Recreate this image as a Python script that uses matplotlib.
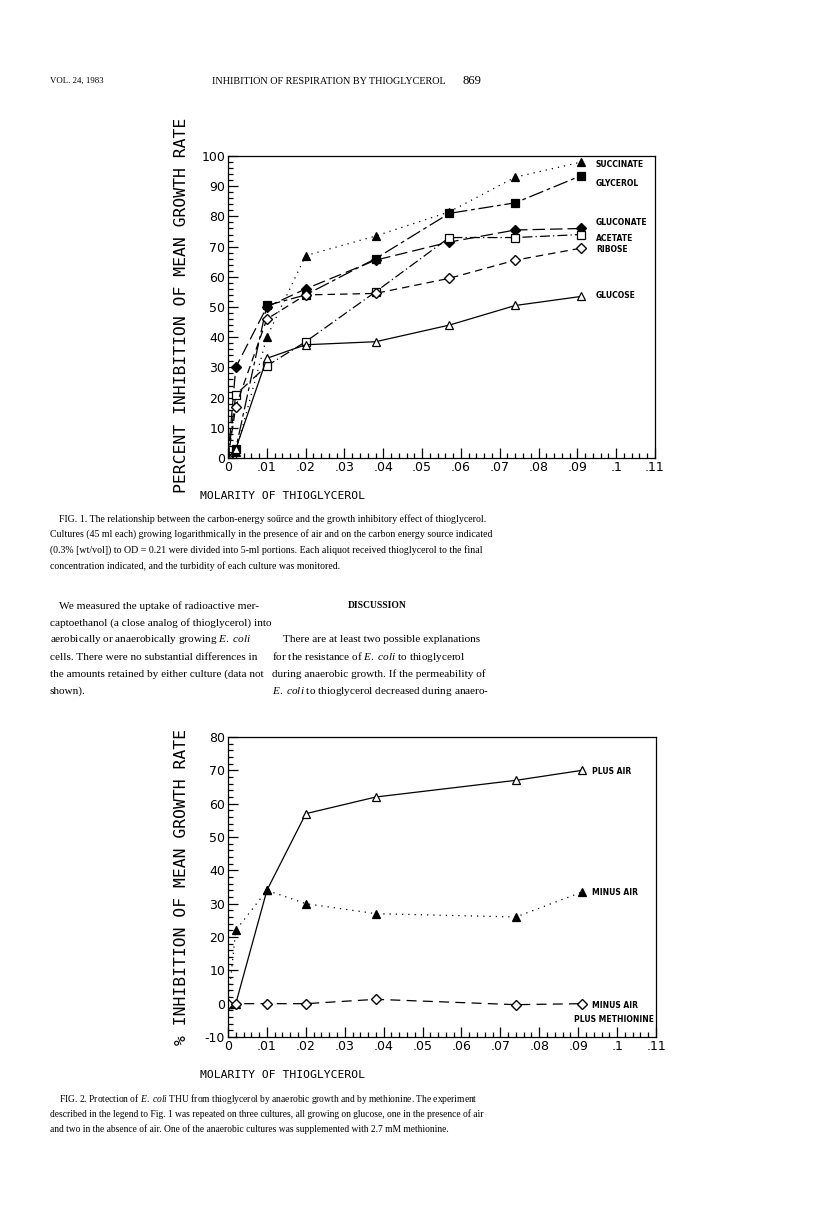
import matplotlib
matplotlib.use('Agg')
import matplotlib.pyplot as plt
from matplotlib.ticker import FixedLocator, FixedFormatter, MultipleLocator
import numpy as np

plt.rcParams['mathtext.fontset'] = 'custom'
plt.rcParams['mathtext.rm'] = 'Liberation Serif'
plt.rcParams['mathtext.it'] = 'Liberation Serif:italic'
plt.rcParams['mathtext.bf'] = 'Liberation Serif:bold'

# ---------------- data ----------------
conc1 = [0, 0.002, 0.01, 0.02, 0.038, 0.057, 0.074, 0.091]
succinate = [0, 2, 40, 67, 73.5, 81.5, 93, 98]
glycerol = [0, 3, 50.5, 54, 66, 81, 84.5, 93.5]
gluconate = [0, 30, 50, 56, 65.5, 71.5, 75.5, 76]
acetate = [0, 21, 30.5, 38.5, 55, 73, 73, 74]
ribose = [0, 17, 46, 54, 54.5, 59.5, 65.5, 69.5]
glucose = [0, 3, 33, 37.5, 38.5, 44, 50.5, 53.5]

conc2 = [0, 0.002, 0.01, 0.02, 0.038, 0.074, 0.091]
plus_air = [0, 0, 34, 57, 62, 67, 70]
minus_air = [0, 22, 34, 30, 27, 26, 33.5]
minus_air_met = [0, 0, 0, 0, 1.3, -0.3, 0]

xticks = [0, 0.01, 0.02, 0.03, 0.04, 0.05, 0.06, 0.07, 0.08, 0.09, 0.10, 0.11]
xtick_labels = ['0', '.01', '.02', '.03', '.04', '.05', '.06', '.07', '.08', '.09', '.1', '.11']
yticks1 = [0, 10, 20, 30, 40, 50, 60, 70, 80, 90, 100]
yticks2 = [-10, 0, 10, 20, 30, 40, 50, 60, 70, 80]

labels1 = ['SUCCINATE', 'GLYCEROL', 'GLUCONATE', 'ACETATE', 'RIBOSE', 'GLUCOSE']
label1_y = [97.1, 90.9, 77.9, 72.8, 69.2, 53.7]
labels2 = ['PLUS AIR', 'MINUS AIR', 'MINUS AIR', 'PLUS METHIONINE']
label2_y = [69.6, 33.4, -0.4, -4.9]

W, H = 816, 1224
fig = plt.figure(figsize=(W / 100, H / 100), dpi=100)
fig.patch.set_facecolor('white')


def fx(px):
    return px / W


def fy(py):
    return 1 - py / H


TICKFONT = dict(family='DejaVu Sans', size=9)
MONO = 'DejaVu Sans Mono'
LW = 0.9


def style_axes(ax, ymin, ymax, yt):
    ax.set_xlim(0, 0.11)
    ax.set_ylim(ymin, ymax)
    ax.xaxis.set_major_locator(FixedLocator(xticks))
    ax.xaxis.set_major_formatter(FixedFormatter(xtick_labels))
    ax.xaxis.set_minor_locator(MultipleLocator(0.002))
    ax.yaxis.set_major_locator(FixedLocator(yt))
    ax.yaxis.set_major_formatter(FixedFormatter([str(v) for v in yt]))
    ax.yaxis.set_minor_locator(MultipleLocator(2))
    ax.tick_params(which='major', direction='in', length=7, width=LW, pad=2,
                   labelsize=TICKFONT['size'])
    ax.tick_params(which='minor', direction='in', length=3.5, width=LW)
    for lab in ax.get_xticklabels() + ax.get_yticklabels():
        lab.set_family(TICKFONT['family'])
    for sp in ax.spines.values():
        sp.set_linewidth(LW)


mk = dict(markersize=6, color='black', linewidth=LW, markeredgewidth=0.9)

# ---------------- Figure 1 ----------------
ax1 = fig.add_axes([fx(228), fy(458), fx(655 - 228), (458 - 156) / H])
style_axes(ax1, 0, 100, yticks1)
ax1.plot(conc1, succinate, linestyle=(0, (1, 4)), marker='^', markerfacecolor='black', **mk)
ax1.plot(conc1, glycerol, linestyle=(0, (12, 3, 3, 3)), marker='s', markerfacecolor='black', **mk)
ax1.plot(conc1, gluconate, linestyle=(0, (10, 4)), marker='D', markersize=5.5,
         markerfacecolor='black', color='black', linewidth=LW)
ax1.plot(conc1, acetate, linestyle=(0, (8, 2.5, 1, 2.5)), marker='s', markerfacecolor='white', **mk)
ax1.plot(conc1, ribose, linestyle=(0, (6, 4)), marker='D', markersize=5.5,
         markerfacecolor='white', color='black', linewidth=LW)
ax1.plot(conc1, glucose, linestyle='-', marker='^', markerfacecolor='white', **mk)
for t, yv in zip(labels1, label1_y):
    ax1.text(0.0948, yv, t, fontsize=5.5, fontweight='bold', family='DejaVu Sans',
             va='center', ha='left')

fig.text(fx(181), fy(305), 'PERCENT INHIBITION OF MEAN GROWTH RATE', rotation=90,
         family=MONO, fontsize=11.8, ha='center', va='center')
fig.text(fx(282), fy(496), 'MOLARITY OF THIOGLYCEROL', family=MONO, fontsize=8.2,
         ha='center', va='center')

# ---------------- Figure 2 ----------------
ax2 = fig.add_axes([fx(228), fy(1037), fx(656 - 228), (1037 - 737) / H])
style_axes(ax2, -10, 80, yticks2)
ax2.plot(conc2, plus_air, linestyle='-', marker='^', markerfacecolor='white', **mk)
ax2.plot(conc2, minus_air, linestyle=(0, (1, 4)), marker='^', markerfacecolor='black', **mk)
ax2.plot(conc2, minus_air_met, linestyle=(0, (8, 5)), marker='D', markersize=5.5,
         markerfacecolor='white', color='black', linewidth=LW)
lab2_x = [0.0936, 0.0936, 0.0936, 0.0888]
for t, xv, yv in zip(labels2, lab2_x, label2_y):
    ax2.text(xv, yv, t, fontsize=5.5, fontweight='bold', family='DejaVu Sans',
             va='center', ha='left')

fig.text(fx(181), fy(887), '% INHIBITION OF MEAN GROWTH RATE', rotation=90,
         family=MONO, fontsize=11.8, ha='center', va='center')
fig.text(fx(282), fy(1075), 'MOLARITY OF THIOGLYCEROL', family=MONO, fontsize=8.2,
         ha='center', va='center')

# ---------------- page text ----------------
SERIF = 'Liberation Serif'
renderer = fig.canvas.get_renderer()


def fit_text(x0, x1, y, s, weight='normal', ha='left'):
    t = fig.text(fx(x0) if ha == 'left' else fx(x1), fy(y), s, family=SERIF, fontsize=10,
                 ha=ha, va='center', fontweight=weight)
    w = t.get_window_extent(renderer).width
    t.set_fontsize(10 * (x1 - x0) / w)
    return t


def block(lines, x0s, ys, right, last_full=False, weight='normal'):
    """Place lines of a justified paragraph with one common fitted size."""
    texts = []
    sizes = []
    for i, (ln, x0, y) in enumerate(zip(lines, x0s, ys)):
        t = fig.text(fx(x0), fy(y), ln, family=SERIF, fontsize=10, ha='left',
                     va='center', fontweight=weight)
        texts.append(t)
        w = t.get_window_extent(renderer).width
        if i < len(lines) - 1 or last_full:
            sizes.append(10 * (right - x0) / w)
    s = float(np.median(sizes))
    for t in texts:
        t.set_fontsize(s)
    return s


# header
fit_text(50, 103, 81, 'VOL. 24, 1983')
fit_text(212, 447, 81, 'INHIBITION OF RESPIRATION BY THIOGLYCEROL')
fit_text(462, 481, 81, '869', ha='right')

cap1 = [
    'FIG. 1. The relationship between the carbon-energy soűrce and the growth inhibitory effect of thioglycerol.',
    'Cultures (45 ml each) growing logarithmically in the presence of air and on the carbon energy source indicated',
    '(0.3% [wt/vol]) to OD = 0.21 were divided into 5-ml portions. Each aliquot received thioglycerol to the final',
    'concentration indicated, and the turbidity of each culture was monitored.',
]
block(cap1, [59, 50, 50, 50], [519, 534.5, 550, 566], 482)

ECOLI = r'$\mathit{E.}$ $\mathit{coli}$'
left_col = [
    'We measured the uptake of radioactive mer-',
    'captoethanol (a close analog of thioglycerol) into',
    'aerobically or anaerobically growing ' + ECOLI,
    'cells. There were no substantial differences in',
    'the amounts retained by either culture (data not',
    'shown).',
]
block(left_col, [59, 50, 50, 50, 50, 50], [606, 623, 640, 657, 674, 691], 259)

fit_text(348, 406, 606, 'DISCUSSION', weight='bold')
right_col = [
    'There are at least two possible explanations',
    'for the resistance of ' + ECOLI + ' to thioglycerol',
    'during anaerobic growth. If the permeability of',
    ECOLI + ' to thioglycerol decreased during anaero-',
]
block(right_col, [283, 272, 272, 272], [640, 657, 674, 691], 482, last_full=True)

cap2 = [
    'FIG. 2. Protection of ' + ECOLI + ' THU from thioglycerol by anaerobic growth and by methionine. The experiment',
    'described in the legend to Fig. 1 was repeated on three cultures, all growing on glucose, one in the presence of air',
    'and two in the absence of air. One of the anaerobic cultures was supplemented with 2.7 mM methionine.',
]
block(cap2, [59, 50, 50], [1099, 1114, 1129], 482)

fig.savefig('out.png', dpi=100, facecolor='white')
